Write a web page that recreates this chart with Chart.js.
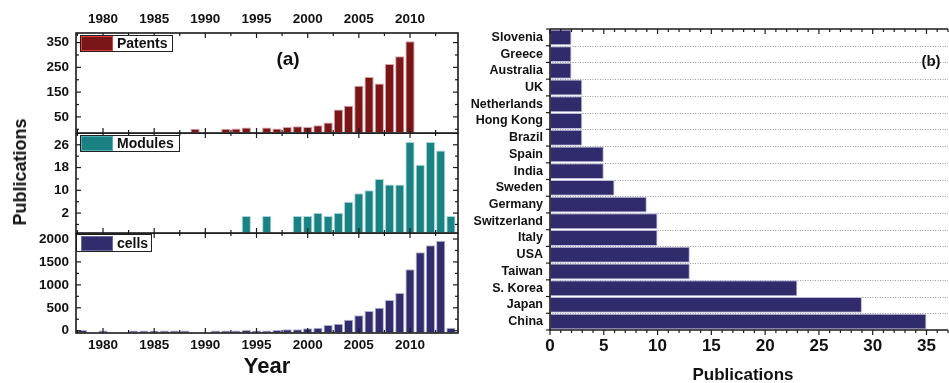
<!DOCTYPE html>
<html>
<head>
<meta charset="utf-8">
<script src="https://cdn.jsdelivr.net/npm/chart.js@4.4.0/dist/chart.umd.min.js"></script>
<style>
  html, body { margin: 0; padding: 0; background: #fff; }
  #wrap { position: relative; width: 949px; height: 383px; overflow: hidden;
          font-family: 'Liberation Sans', Arial, sans-serif; font-weight: bold; color: #111; }
  canvas { position: absolute; }
  .t { position: absolute; white-space: nowrap; line-height: 1; transform: translate(-50%, -50%); }
  .lg { position: absolute; border: 1px solid #222; box-sizing: border-box; background: #fff; }
  .sw { position: absolute; box-sizing: border-box; }
  .lt { position: absolute; white-space: nowrap; font-size: 14px; line-height: 16px; }
</style>
</head>
<body>
<div id="wrap">
  <canvas id="cCty" width="484" height="383" style="left:465px;top:0"></canvas>
  <canvas id="cPat" width="470" height="134" style="left:0;top:0"></canvas>
  <canvas id="cMod" width="470" height="101" style="left:0;top:133px"></canvas>
  <canvas id="cCel" width="470" height="150" style="left:0;top:233px"></canvas>

  <!-- panel (a) legends -->
  <div class="lg" style="left:80px;top:35px;width:93px;height:17px"></div>
  <div class="sw" style="left:81px;top:36px;width:32px;height:15px;background:#7a1518;border:1px solid #e23a3d"></div>
  <div class="lt" style="left:117px;top:35px">Patents</div>

  <div class="lg" style="left:80px;top:135px;width:100px;height:17px"></div>
  <div class="sw" style="left:81px;top:136px;width:32px;height:15px;background:#1a8282;border:1px solid #4fb0b0"></div>
  <div class="lt" style="left:117px;top:135px">Modules</div>

  <div class="lg" style="left:76px;top:234px;width:76px;height:18px"></div>
  <div class="sw" style="left:81px;top:235.5px;width:32px;height:15px;background:#312c6c;border:1px solid #6d69a3"></div>
  <div class="lt" style="left:117px;top:235px">cells</div>

  <div class="t" style="left:288px;top:57.5px;font-size:19px">(a)</div>
  <div class="t" style="left:931px;top:60px;font-size:15px">(b)</div>
  <div class="t" style="left:20px;top:172px;font-size:18px;transform:translate(-50%,-50%) rotate(-90deg)">Publications</div>
  <div class="t" style="left:743px;top:374px;font-size:17px">Publications</div>
</div>

<script>
// ---- data: publications per year (null = no bar that year) ----
const years = [1978, 1979, 1980, 1981, 1982, 1983, 1984, 1985, 1986, 1987, 1988, 1989, 1990,
               1991, 1992, 1993, 1994, 1995, 1996, 1997, 1998, 1999, 2000, 2001, 2002, 2003,
               2004, 2005, 2006, 2007, 2008, 2009, 2010, 2011, 2012, 2013, 2014];

const patents = [null, null, null, null, null, null, null, null, null, null, null, 2, null,
                 null, 2, 3, 7, null, 7, 3, 9, 12, 9, 16, 27, 80,
                 95, 176, 211, 185, 264, 295, 355, null, null, null, null];

const modules = [null, null, null, null, null, null, null, null, null, null, null, null, null,
                 null, null, null, 1, null, 1, null, null, 1, 1, 2, 1, 2,
                 6, 9, 10, 14, 12, 12, 27, 19, 27, 24, 1];

const cells = [15, null, 5, null, null, 3, 3, 3, 3, 3, 3, null, null,
               3, 3, 3, 15, 3, 3, 15, 30, 30, 52, 65, 124, 153,
               240, 336, 430, 502, 670, 822, 1339, 1710, 1863, 1963, 65];

const yearTicks = [1980, 1985, 1990, 1995, 2000, 2005, 2010];
const yearMinorTicks = [1977.5, 1982.5, 1987.5, 1992.5, 1997.5, 2002.5, 2007.5, 2012.5];

const patentTicks = [50, 150, 250, 350];
const patentMinor = [0, 100, 200, 300];
const moduleTicks = [2, 10, 18, 26];
const moduleMinor = [-2, 6, 14, 22, 30];
const cellTicks = [0, 500, 1000, 1500, 2000];
const cellMinor = [250, 750, 1250, 1750];

// ---- data: publications per country ----
const countries = ['Slovenia', 'Greece', 'Australia', 'UK', 'Netherlands', 'Hong Kong', 'Brazil',
                   'Spain', 'India', 'Sweden', 'Germany', 'Switzerland', 'Italy', 'USA', 'Taiwan',
                   'S. Korea', 'Japan', 'China'];
const countryPubs = [2, 2, 2, 3, 3, 3, 3, 5, 5, 6, 9, 10, 10, 13, 13, 23, 29, 35];
const countryTicks = [0, 5, 10, 15, 20, 25, 30, 35];

Chart.defaults.font.family = "'Liberation Sans', Arial, sans-serif";
Chart.defaults.font.weight = 'bold';
Chart.defaults.color = '#111';

const INK = '#1a1a1a';
const plain = v => String(v);
// keep each plot box at its fixed size: no extra room reserved for end labels
const noPad = s => { s.paddingTop = 0; s.paddingBottom = 0; s.paddingLeft = 0; s.paddingRight = 0; };

// Box around each year panel with inward major/minor ticks on all four sides
const yearFrame = {
  id: 'yearFrame',
  afterDatasetsDraw(chart, args, opts) {
    const { ctx, chartArea: a, scales: { x, y } } = chart;
    ctx.save();
    ctx.strokeStyle = INK;
    ctx.lineWidth = 1.2;
    const seg = (x1, y1, x2, y2) => { ctx.beginPath(); ctx.moveTo(x1, y1); ctx.lineTo(x2, y2); ctx.stroke(); };
    const yTick = (v, len) => {
      const p = y.getPixelForValue(v);
      if (p < a.top - 0.5 || p > a.bottom + 0.5) return;
      seg(a.left, p, a.left + len, p);
      seg(a.right, p, a.right - len, p);
    };
    const xTick = (v, len) => {
      const p = x.getPixelForValue(v);
      if (p < a.left || p > a.right) return;
      seg(p, a.top, p, a.top + len);
      seg(p, a.bottom, p, a.bottom - len);
    };
    opts.yMajor.forEach(v => yTick(v, 5));
    opts.yMinor.forEach(v => yTick(v, 3));
    yearTicks.forEach(v => xTick(v, 5));
    yearMinorTicks.forEach(v => xTick(v, 3));
    ctx.lineWidth = 1.6;
    ctx.strokeRect(a.left, a.top, a.width, a.height);
    ctx.restore();
  }
};

function yearChart(id, values, o) {
  const pts = [];
  years.forEach((yr, i) => { if (values[i] !== null) pts.push({ x: yr, y: values[i] }); });
  return new Chart(document.getElementById(id), {
    type: 'bar',
    data: {
      datasets: [{
        data: pts,
        backgroundColor: o.fill,
        borderColor: o.edge,
        borderWidth: 1,
        borderSkipped: false,
        base: o.min,
        barPercentage: 0.9,
        categoryPercentage: 1
      }]
    },
    plugins: [yearFrame],
    options: {
      responsive: false,
      animation: false,
      devicePixelRatio: 1,
      layout: { autoPadding: false, padding: { left: 0, right: 12, top: 0, bottom: o.padBottom } },
      plugins: {
        legend: { display: false },
        tooltip: { enabled: false },
        yearFrame: { yMajor: o.yTicks, yMinor: o.yMinor }
      },
      scales: {
        x: {
          type: 'linear',
          position: o.xPos,
          display: o.xShow,
          min: 1977.36,
          max: 2014.69,
          offset: false,
          grid: { display: false, drawTicks: false, offset: false },
          border: { display: false },
          ticks: { font: { size: 13.5, weight: 'bold' }, color: '#111', padding: o.xPad, maxRotation: 0, callback: plain },
          afterBuildTicks: s => { s.ticks = yearTicks.map(v => ({ value: v })); },
          afterFit: s => { s.height = o.xH; noPad(s); },
          title: o.xTitle
            ? { display: true, text: o.xTitle, color: '#111',
                font: { size: 22, weight: 'bold', lineHeight: 1 }, padding: { top: 0, bottom: 5 } }
            : { display: false }
        },
        y: {
          min: o.min,
          max: o.max,
          grid: { display: false, drawTicks: false },
          border: { display: false },
          ticks: { font: { size: 13.5, weight: 'bold' }, color: '#111', padding: 7, callback: plain },
          afterBuildTicks: s => { s.ticks = o.yTicks.map(v => ({ value: v })); },
          afterFit: s => { s.width = 76; noPad(s); }
        }
      }
    }
  });
}

yearChart('cPat', patents, {
  fill: '#7a1518', edge: '#d7a2a4', min: -15, max: 388.7,
  yTicks: patentTicks, yMinor: patentMinor,
  xPos: 'top', xShow: true, xPad: 6, xH: 33, padBottom: 1
});

yearChart('cMod', modules, {
  fill: '#1a8282', edge: '#a6d8d8', min: -5, max: 30.14,
  yTicks: moduleTicks, yMinor: moduleMinor,
  xPos: 'bottom', xShow: false, xPad: 0, xH: 0, padBottom: 1
});

yearChart('cCel', cells, {
  fill: '#312c6c', edge: '#b3b1d4', min: -50, max: 2131,
  yTicks: cellTicks, yMinor: cellMinor,
  xPos: 'bottom', xShow: true, xPad: 4, xH: 50, padBottom: 0, xTitle: 'Year'
});

// Country panel: dotted row separators behind bars, axis lines and ticks on top
const countryFrame = {
  id: 'countryFrame',
  beforeDatasetsDraw(chart) {
    const { ctx, chartArea: a, scales: { y } } = chart;
    ctx.save();
    ctx.strokeStyle = '#9a9a9a';
    ctx.lineWidth = 1;
    ctx.setLineDash([1, 1.5]);
    for (let i = 0; i < countries.length - 1; i++) {
      const p = Math.round((y.getPixelForTick(i) + y.getPixelForTick(i + 1)) / 2) + 0.5;
      ctx.beginPath(); ctx.moveTo(a.left, p); ctx.lineTo(a.right, p); ctx.stroke();
    }
    ctx.restore();
  },
  afterDatasetsDraw(chart) {
    const { ctx, chartArea: a, scales: { x, y } } = chart;
    ctx.save();
    ctx.strokeStyle = INK;
    ctx.lineWidth = 1.2;
    const seg = (x1, y1, x2, y2) => { ctx.beginPath(); ctx.moveTo(x1, y1); ctx.lineTo(x2, y2); ctx.stroke(); };
    // row boundary ticks on the left, pointing outward
    const bounds = [a.top, a.bottom];
    for (let i = 0; i < countries.length - 1; i++) {
      bounds.push((y.getPixelForTick(i) + y.getPixelForTick(i + 1)) / 2);
    }
    bounds.forEach(p => seg(a.left - 4, p, a.left, p));
    // value ticks: every unit minor, every five major
    for (let v = 0; v <= x.max; v++) {
      const p = x.getPixelForValue(v);
      const len = v % 5 === 0 ? 5 : 3;
      seg(p, a.bottom, p, a.bottom + len);
      seg(p, a.top, p, a.top + len);
    }
    ctx.lineWidth = 1.6;
    seg(a.left, a.top, a.right, a.top);
    seg(a.left, a.bottom, a.right, a.bottom);
    seg(a.left, a.top, a.left, a.bottom);
    ctx.restore();
  }
};

new Chart(document.getElementById('cCty'), {
  type: 'bar',
  data: {
    labels: countries,
    datasets: [{
      data: countryPubs,
      backgroundColor: '#302b6a',
      borderColor: '#bdbbe0',
      borderWidth: 1,
      borderSkipped: false,
      barPercentage: 0.95,
      categoryPercentage: 1
    }]
  },
  plugins: [countryFrame],
  options: {
    indexAxis: 'y',
    responsive: false,
    animation: false,
    devicePixelRatio: 1,
    layout: { autoPadding: false, padding: { left: 0, right: 1, top: 29, bottom: 0 } },
    plugins: { legend: { display: false }, tooltip: { enabled: false } },
    scales: {
      x: {
        type: 'linear',
        min: 0,
        max: 37,
        grid: { display: false, drawTicks: false },
        border: { display: false },
        ticks: { font: { size: 17, weight: 'bold' }, color: '#111', padding: 6.5, maxRotation: 0, callback: plain },
        afterBuildTicks: s => { s.ticks = countryTicks.map(v => ({ value: v })); },
        afterFit: s => { s.height = 53; noPad(s); }
      },
      y: {
        grid: { display: false, drawTicks: false },
        border: { display: false },
        ticks: { font: { size: 12.5, weight: 'bold' }, color: '#111', padding: 7, autoSkip: false },
        afterFit: s => { s.width = 85; noPad(s); }
      }
    }
  }
});
</script>
</body>
</html>
